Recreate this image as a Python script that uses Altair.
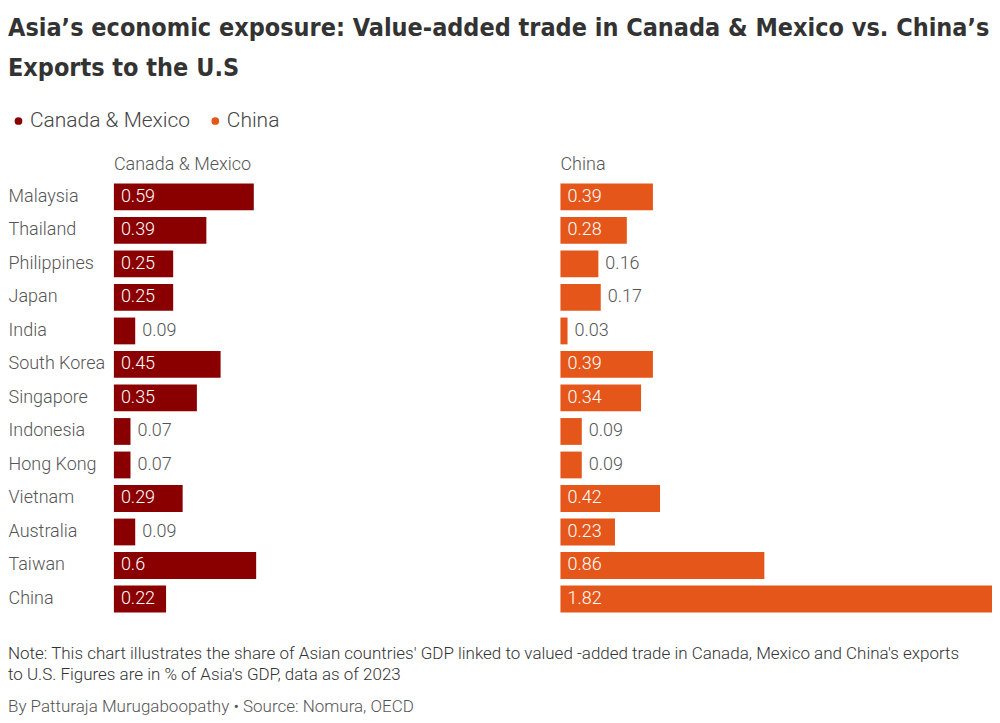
import altair as alt
import pandas as pd

countries = ["Malaysia", "Thailand", "Philippines", "Japan", "India", "South Korea",
             "Singapore", "Indonesia", "Hong Kong", "Vietnam", "Australia", "Taiwan", "China"]
cm_values = [0.59, 0.39, 0.25, 0.25, 0.09, 0.45, 0.35, 0.07, 0.07, 0.29, 0.09, 0.6, 0.22]
china_values = [0.39, 0.28, 0.16, 0.17, 0.03, 0.39, 0.34, 0.09, 0.09, 0.42, 0.23, 0.86, 1.82]
series_names = ["Canada & Mexico", "China"]
series_colors = ["#8a0000", "#e5561a"]
title_lines = ["Asia\u2019s economic exposure: Value-added trade in Canada & Mexico vs. China\u2019s",
               "Exports to the U.S"]
note_lines = ["Note: This chart illustrates the share of Asian countries' GDP linked to valued -added trade in Canada, Mexico and China's exports",
              "to U.S. Figures are in % of Asia's GDP, data as of 2023"]
byline = "By Patturaja Murugaboopathy  \u2022 Source: Nomura, OECD"

FONT = "Roboto"
LIGHT = 300
TITLE_FONT = "'DejaVu Sans Condensed', sans-serif"

df_cm = pd.DataFrame({"country": countries, "value": cm_values, "series": series_names[0]})
df_cn = pd.DataFrame({"country": countries, "value": china_values, "series": series_names[1]})

x_scale = alt.Scale(domain=[0, 1.82], nice=False, zero=True)
y_scale = alt.Scale(paddingInner=0.2, paddingOuter=0.1)
color_scale = alt.Scale(domain=series_names, range=series_colors)


def panel(df, header, show_axis):
    base = alt.Chart(df)
    if show_axis:
        y_axis = alt.Axis(labelAlign="left", labelPadding=106, ticks=False, domain=False,
                          labelFont=FONT, labelFontSize=18, labelFontWeight=LIGHT,
                          labelColor="#555555", title=None)
    else:
        y_axis = None
    y_enc = alt.Y("country:N", sort=countries, scale=y_scale, axis=y_axis)
    bars = base.mark_bar().encode(
        x=alt.X("value:Q", scale=x_scale, axis=None),
        y=y_enc,
        color=alt.Color("series:N", scale=color_scale,
                        legend=alt.Legend(title=None, orient="none", legendX=-106, legendY=-70,
                                          direction="horizontal", padding=0,
                                          symbolType="circle", symbolSize=60, labelFont=FONT,
                                          labelFontSize=21, labelFontWeight=LIGHT,
                                          labelColor="#444444", labelLimit=400,
                                          columnPadding=14, labelOffset=1)),
    )
    labels = base.transform_calculate(
        lx="datum.value >= 0.2 ? 0 : datum.value"
    ).mark_text(align="left", dx=7, font=FONT, fontSize=18, fontWeight=LIGHT).encode(
        x=alt.X("lx:Q", scale=x_scale, axis=None),
        y=y_enc,
        text=alt.Text("value:Q", format=".2~f"),
        color=alt.condition("datum.value >= 0.2", alt.value("white"), alt.value("#555555")),
    )
    return alt.layer(bars, labels).properties(
        width=432, height=436,
        title=alt.Title(header, anchor="start", frame="group", font=FONT, fontSize=18,
                        fontWeight=LIGHT, color="#555555", offset=6),
    )


left = panel(df_cm, series_names[0], True)
right = panel(df_cn, series_names[1], False)
top = alt.hconcat(left, right, spacing=15)

note = alt.Chart(pd.DataFrame({"k": [0]})).mark_text(
    align="left", baseline="middle", font=FONT, fontSize=17, fontWeight=LIGHT,
    color="#333333", lineHeight=21
).encode(x=alt.value(-106), y=alt.value(38), text=alt.value(note_lines))
by = alt.Chart(pd.DataFrame({"k": [0]})).mark_text(
    align="left", baseline="middle", font=FONT, fontSize=17, fontWeight=LIGHT, color="#555555"
).encode(x=alt.value(-106), y=alt.value(91), text=alt.value(byline))
footer = alt.layer(note, by).properties(width=860, height=90)

chart = alt.vconcat(top, footer, spacing=0).properties(
    title=alt.Title(title_lines, anchor="start", font=TITLE_FONT, fontSize=25, fontWeight="bold",
                    color="#333333", lineHeight=40, offset=29),
    padding={"left": 0, "top": 8, "right": 0, "bottom": 0},
).configure_view(stroke=None)

chart.save("out.html", embed_options={"renderer": "svg", "actions": False})
